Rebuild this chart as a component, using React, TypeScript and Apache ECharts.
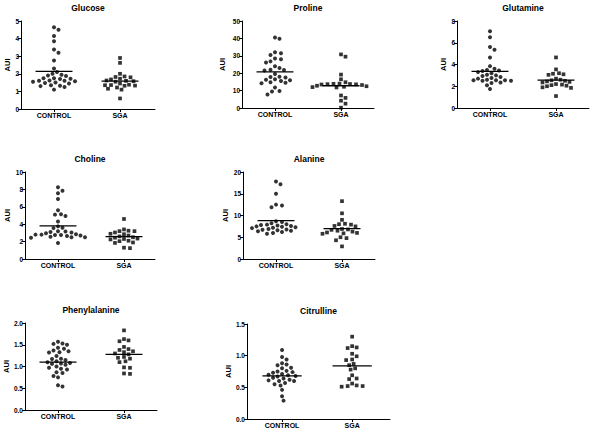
import React, { useEffect, useRef } from "react";
import * as echarts from "echarts";

// ---- Data ----
const groups = ["CONTROL", "SGA"];
const panelNames = ["Glucose", "Proline", "Glutamine", "Choline", "Alanine", "Phenylalanine", "Citrulline"];

const glucoseControl = [4.65, 4.5, 4.15, 3.85, 3.38, 3.2, 2.75, 2.3, 2.1, 2.0, 1.95, 1.9, 1.88, 1.75, 1.72, 1.7, 1.75, 1.62, 1.6, 1.58, 1.55, 1.6, 1.5, 1.45, 1.48, 1.35, 1.3, 1.25, 1.32, 1.1];
const glucoseSga = [2.9, 2.62, 2.0, 1.85, 1.82, 1.8, 1.72, 1.68, 1.6, 1.58, 1.55, 1.62, 1.45, 1.38, 1.35, 1.33, 1.36, 1.32, 1.22, 1.15, 1.1, 0.6];
const prolineControl = [40.5, 39.8, 32, 31.5, 30.5, 28.5, 28, 26.8, 26.2, 24, 23, 22, 21.8, 21.5, 19.5, 18, 17.8, 17.5, 16.5, 16, 16.2, 15.5, 14.8, 14.5, 14.2, 11.8, 9.8, 9.5, 7.8];
const prolineSga = [30.8, 29.5, 19.2, 16.5, 14.8, 14, 13.8, 13.7, 13.5, 13.6, 13.9, 13.2, 12.8, 12.5, 12.2, 12, 11.8, 7.2, 5.8, 4.2, 2.5, 0.2];
const glutamineControl = [7.05, 6.5, 5.6, 5.35, 4.65, 3.85, 3.6, 3.5, 3.45, 3.4, 3.3, 3.2, 3.05, 3.0, 2.95, 2.85, 2.75, 2.7, 2.6, 2.55, 2.55, 2.5, 2.5, 2.55, 2.35, 2.3, 2.1, 1.75];
const glutamineSga = [4.65, 3.55, 3.2, 3.15, 3.1, 3.05, 2.7, 2.6, 2.55, 2.5, 2.45, 2.4, 2.35, 2.2, 2.15, 2.1, 2.05, 2.0, 1.9, 1.85, 1.1];
const cholineControl = [8.25, 7.85, 7.55, 6.9, 5.6, 5.15, 5.1, 4.95, 4.3, 3.75, 3.55, 3.6, 3.15, 3.1, 3.05, 3.2, 2.95, 2.85, 2.8, 2.75, 2.8, 2.7, 2.75, 2.65, 2.5, 2.5, 2.45, 2.55, 1.85];
const cholineSga = [4.6, 3.4, 3.25, 3.2, 3.2, 3.05, 2.9, 2.85, 2.7, 2.6, 2.5, 2.45, 2.35, 2.3, 2.25, 2.1, 2.05, 1.9, 1.85, 1.3, 1.25];
const alanineControl = [17.8, 17.2, 15.0, 12.5, 12.3, 11.9, 8.7, 8.5, 8.2, 8.0, 7.9, 7.8, 7.7, 7.6, 7.5, 7.4, 7.3, 7.2, 7.1, 6.9, 6.8, 6.7, 6.6, 6.5, 6.4, 6.2, 6.0, 5.8];
const alanineSga = [13.3, 10.5, 9.0, 8.1, 8.0, 7.9, 7.6, 7.5, 6.9, 6.8, 6.7, 6.5, 6.3, 6.1, 6.0, 5.9, 5.8, 5.0, 4.8, 4.3, 2.9];
const phenylControl = [1.57, 1.53, 1.52, 1.5, 1.43, 1.41, 1.37, 1.35, 1.33, 1.32, 1.24, 1.18, 1.17, 1.15, 1.12, 1.1, 1.08, 1.07, 1.06, 1.04, 1.0, 0.97, 0.95, 0.93, 0.87, 0.85, 0.78, 0.75, 0.57, 0.54];
const phenylSga = [1.83, 1.63, 1.6, 1.58, 1.45, 1.4, 1.38, 1.35, 1.33, 1.3, 1.28, 1.22, 1.2, 1.18, 1.12, 1.1, 0.98, 0.97, 0.84, 0.83];
const citrullineControl = [1.09, 0.98, 0.94, 0.88, 0.86, 0.85, 0.81, 0.8, 0.76, 0.75, 0.74, 0.73, 0.71, 0.7, 0.69, 0.68, 0.67, 0.65, 0.64, 0.62, 0.61, 0.6, 0.6, 0.57, 0.55, 0.53, 0.46, 0.36, 0.29];
const citrullineSga = [1.3, 1.15, 1.13, 1.12, 1.03, 0.99, 0.94, 0.93, 0.87, 0.85, 0.8, 0.78, 0.69, 0.64, 0.63, 0.56, 0.53, 0.52, 0.52, 0.51];

// mean lines [CONTROL, SGA]
const glucoseMeans = [2.14, 1.58];
const prolineMeans = [20.8, 12.8];
const glutamineMeans = [3.36, 2.57];
const cholineMeans = [3.8, 2.58];
const alanineMeans = [8.8, 7.0];
const phenylMeans = [1.1, 1.28];
const citrullineMeans = [0.68, 0.84];

// y axis ranges
const yMaxes = [5, 50, 8, 10, 20, 2, 1.5];
const yIntervals = [1, 10, 2, 2, 5, 0.5, 0.5];
const yDecimals = [0, 0, 0, 0, 0, 1, 1];

const controls = [glucoseControl, prolineControl, glutamineControl, cholineControl, alanineControl, phenylControl, citrullineControl];
const sgas = [glucoseSga, prolineSga, glutamineSga, cholineSga, alanineSga, phenylSga, citrullineSga];
const means = [glucoseMeans, prolineMeans, glutamineMeans, cholineMeans, alanineMeans, phenylMeans, citrullineMeans];

// ---- Layout (pixels) ----
const layout = [
  { left: 21, top: 21, width: 134, height: 88, xMax: 1.53, nameGap: 9, titleY: 8 },
  { left: 242, top: 21, width: 132, height: 87, xMax: 1.5, nameGap: 16, titleY: 8 },
  { left: 457, top: 21, width: 132, height: 87, xMax: 1.5, nameGap: 10, titleY: 8 },
  { left: 25, top: 172, width: 130, height: 87, xMax: 1.47, nameGap: 13, titleY: 159 },
  { left: 243, top: 172, width: 132, height: 87, xMax: 1.5, nameGap: 14, titleY: 159 },
  { left: 25, top: 323, width: 132, height: 87, xMax: 1.5, nameGap: 14, titleY: 310 },
  { left: 247, top: 324, width: 143, height: 95, xMax: 1.54, nameGap: 15, titleY: 311 },
];
const X_MIN = -0.5;
const DOT = 4;
const FONT = "'Liberation Sans', Arial, sans-serif";

function swarm(values: number[], pxPerY: number, pxPerX: number, center: number): [number, number][] {
  const order = values.map((_, i) => i).sort((a, b) => values[b] - values[a]);
  const placed: { x: number; y: number }[] = [];
  const out: [number, number][] = new Array(values.length);
  const step = 1.5;
  const minD = 4.6;
  for (const i of order) {
    const y = values[i] * pxPerY;
    let k = 0;
    let x = 0;
    for (;;) {
      const m = Math.ceil(k / 2);
      const cand = k === 0 ? 0 : k % 2 === 1 ? m * step : -m * step;
      if (placed.every((p) => Math.hypot(p.x - cand, p.y - y) >= minD)) {
        x = cand;
        break;
      }
      k++;
    }
    placed.push({ x, y });
    out[i] = [center + x / pxPerX, values[i]];
  }
  return out;
}

function buildOption() {
  const grid: any[] = [];
  const xAxis: any[] = [];
  const yAxis: any[] = [];
  const series: any[] = [];
  const graphic: any[] = [];
  layout.forEach((L, p) => {
    grid.push({ left: L.left, top: L.top, width: L.width, height: L.height, containLabel: false });
    xAxis.push({
      type: "value",
      gridIndex: p,
      min: X_MIN,
      max: L.xMax,
      splitLine: { show: false },
      axisLine: { show: true, onZero: false, lineStyle: { color: "#000", width: 1 } },
      axisTick: { show: true, customValues: [0, 1], length: 3, lineStyle: { color: "#000" } },
      axisLabel: {
        customValues: [0, 1],
        formatter: (v: number) => groups[Math.round(v)] ?? "",
        fontFamily: FONT,
        fontWeight: "bold",
        fontSize: 7,
        color: "#000",
        margin: 3,
      },
    });
    const dec = yDecimals[p];
    yAxis.push({
      type: "value",
      gridIndex: p,
      min: 0,
      max: yMaxes[p],
      interval: yIntervals[p],
      name: "AUI",
      nameLocation: "middle",
      nameRotate: 90,
      nameGap: L.nameGap,
      nameTextStyle: { fontFamily: FONT, fontWeight: "bold", fontSize: 7.5, color: "#000" },
      splitLine: { show: false },
      axisLine: { show: true, onZero: false, lineStyle: { color: "#000", width: 1 } },
      axisTick: { show: true, length: 3, lineStyle: { color: "#000" } },
      axisLabel: {
        formatter: (v: number) => v.toFixed(dec),
        fontFamily: FONT,
        fontWeight: "bold",
        fontSize: 6.5,
        color: "#000",
        margin: 2,
      },
    });
    const pxPerY = L.height / yMaxes[p];
    const pxPerX = L.width / (L.xMax - X_MIN);
    const sets = [controls[p], sgas[p]];
    sets.forEach((vals, g) => {
      series.push({
        type: "scatter",
        xAxisIndex: p,
        yAxisIndex: p,
        symbol: g === 0 ? "circle" : "rect",
        symbolSize: g === 0 ? DOT : DOT - 0.3,
        itemStyle: { color: "#000" },
        data: swarm(vals, pxPerY, pxPerX, g),
        z: 3,
      });
      const half = 0.28;
      series.push({
        type: "line",
        xAxisIndex: p,
        yAxisIndex: p,
        symbol: "none",
        lineStyle: { color: "#000", width: 1.3 },
        data: [
          [g - half, means[p][g]],
          [g + half, means[p][g]],
        ],
        z: 4,
      });
    });
    graphic.push({
      type: "text",
      x: L.left + L.width / 2,
      y: L.titleY,
      style: {
        text: panelNames[p],
        fontFamily: FONT,
        fontWeight: "bold",
        fontSize: 8.5,
        fill: "#000",
        textAlign: "center",
        textVerticalAlign: "middle",
      },
    });
  });
  return {
    animation: false,
    backgroundColor: "#fff",
    grid,
    xAxis,
    yAxis,
    series,
    graphic,
  };
}

export default function App() {
  const ref = useRef<HTMLDivElement>(null);
  useEffect(() => {
    if (!ref.current) return;
    const chart = echarts.init(ref.current, undefined, { renderer: "svg" });
    chart.setOption(buildOption() as any);
    return () => chart.dispose();
  }, []);
  return (
    <div
      ref={ref}
      style={{ position: "absolute", left: 0, top: 0, width: 600, height: 435, background: "#fff" }}
    />
  );
}
